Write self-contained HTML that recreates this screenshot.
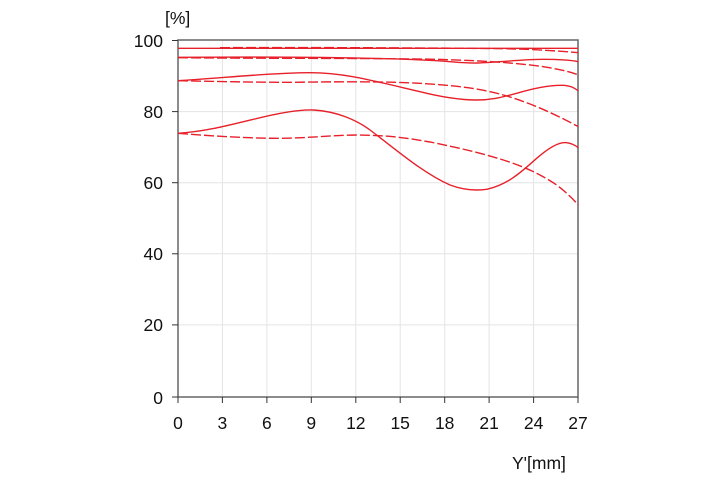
<!DOCTYPE html>
<html><head><style>
html,body{margin:0;padding:0;background:#fff;}
svg text{font-family:"Liberation Sans",sans-serif;font-size:17.5px;fill:#111;}
</style></head><body>
<svg width="720" height="480" viewBox="0 0 720 480" xmlns="http://www.w3.org/2000/svg">
<g stroke="#e4e4e4" stroke-width="1">
<line x1="222.4" y1="40" x2="222.4" y2="397"/><line x1="266.9" y1="40" x2="266.9" y2="397"/>
<line x1="311.3" y1="40" x2="311.3" y2="397"/><line x1="355.8" y1="40" x2="355.8" y2="397"/>
<line x1="400.2" y1="40" x2="400.2" y2="397"/><line x1="444.7" y1="40" x2="444.7" y2="397"/>
<line x1="489.1" y1="40" x2="489.1" y2="397"/><line x1="533.6" y1="40" x2="533.6" y2="397"/>
<line x1="178" y1="111.6" x2="578" y2="111.6"/><line x1="178" y1="182.7" x2="578" y2="182.7"/>
<line x1="178" y1="253.8" x2="578" y2="253.8"/><line x1="178" y1="324.9" x2="578" y2="324.9"/>
</g>
<rect x="178" y="40" width="400" height="357" fill="none" stroke="#666" stroke-width="1.5"/>
<g stroke="#333" stroke-width="1">
<line x1="172" y1="40.5" x2="178" y2="40.5"/><line x1="172" y1="111.6" x2="178" y2="111.6"/>
<line x1="172" y1="182.7" x2="178" y2="182.7"/><line x1="172" y1="253.8" x2="178" y2="253.8"/>
<line x1="172" y1="324.9" x2="178" y2="324.9"/><line x1="172" y1="397" x2="178" y2="397"/>
<line x1="178" y1="397" x2="178" y2="403"/><line x1="222.4" y1="397" x2="222.4" y2="403"/>
<line x1="266.9" y1="397" x2="266.9" y2="403"/><line x1="311.3" y1="397" x2="311.3" y2="403"/>
<line x1="355.8" y1="397" x2="355.8" y2="403"/><line x1="400.2" y1="397" x2="400.2" y2="403"/>
<line x1="444.7" y1="397" x2="444.7" y2="403"/><line x1="489.1" y1="397" x2="489.1" y2="403"/>
<line x1="533.6" y1="397" x2="533.6" y2="403"/><line x1="578" y1="397" x2="578" y2="403"/>
</g>
<g text-anchor="end">
<text x="163" y="47">100</text><text x="163" y="118">80</text><text x="163" y="189">60</text>
<text x="163" y="260">40</text><text x="163" y="331">20</text><text x="163" y="404">0</text>
</g>
<g text-anchor="middle">
<text x="178" y="429">0</text><text x="222.4" y="429">3</text><text x="266.9" y="429">6</text>
<text x="311.3" y="429">9</text><text x="355.8" y="429">12</text><text x="400.2" y="429">15</text>
<text x="444.7" y="429">18</text><text x="489.1" y="429">21</text><text x="533.6" y="429">24</text>
<text x="578" y="429">27</text>
</g>
<text x="165" y="24">[%]</text>
<text x="512" y="469">Y'[mm]</text>
<g transform="translate(170,30) scale(0.33333)" fill="none" stroke="#e8202a" stroke-width="1.4">
<g>
<path vector-effect="non-scaling-stroke" d="M24,55 L1225,55"/>
<path vector-effect="non-scaling-stroke" d="M24,82 C300,80 600,82 800,92 C860,96 880,100 920,99 C1000,96 1060,88 1120,88 C1180,88 1210,92 1225,95"/>
<path vector-effect="non-scaling-stroke" d="M24,152 C150,145 300,128 420,128 C520,128 600,150 750,185 C830,205 880,210 920,210 C970,210 1000,200 1040,190 C1100,172 1150,165 1180,166 C1205,168 1215,175 1225,183"/>
<path vector-effect="non-scaling-stroke" d="M24,310 C100,305 160,290 250,268 C330,248 390,238 430,240 C500,244 560,270 600,300 C680,360 760,430 840,465 C880,480 920,482 950,478 C1010,465 1050,430 1100,385 C1140,350 1170,335 1190,338 C1205,340 1215,345 1225,353"/>
</g>
<g stroke-dasharray="10 3">
<path vector-effect="non-scaling-stroke" d="M150,53 C500,52 800,54 1000,56 C1100,58 1180,64 1225,68"/>
<path vector-effect="non-scaling-stroke" d="M24,83 C300,86 600,84 800,88 C950,92 1050,100 1120,110 C1180,120 1210,128 1225,135"/>
<path vector-effect="non-scaling-stroke" d="M24,152 C200,156 300,157 360,157 C500,155 650,154 750,160 C850,166 930,175 1000,195 C1080,218 1150,250 1225,290"/>
<path vector-effect="non-scaling-stroke" d="M24,310 C150,320 250,325 330,325 C420,324 480,316 560,315 C650,316 700,322 780,336 C860,352 930,368 1000,390 C1070,412 1120,438 1160,465 C1190,488 1210,508 1225,525"/>
</g>
</g>
</svg>
</body></html>
